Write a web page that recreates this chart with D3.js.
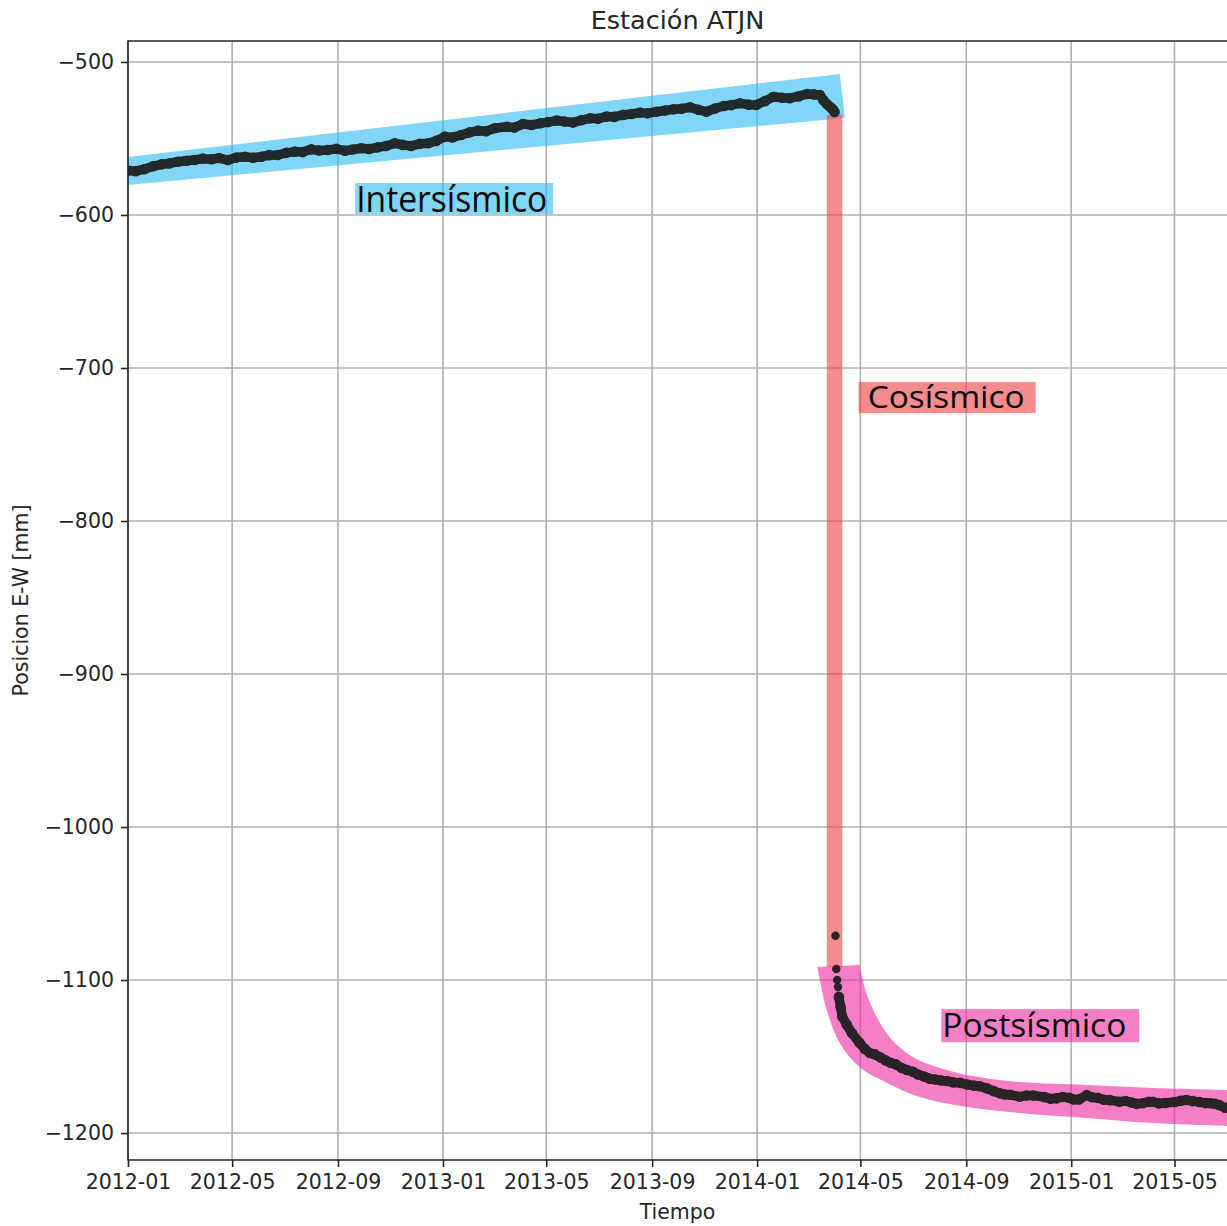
<!DOCTYPE html>
<html>
<head>
<meta charset="utf-8">
<script src="https://cdn.jsdelivr.net/npm/d3@7"></script>
<style>
  html, body { margin: 0; padding: 0; background: #fff; }
  svg { display: block; }
</style>
</head>
<body>
<svg id="chart" width="1227" height="1226"></svg>
<script>
// ---- Data -------------------------------------------------------------
const xTickLabels = ["2012-01","2012-05","2012-09","2013-01","2013-05","2013-09",
                     "2014-01","2014-05","2014-09","2015-01","2015-05"];
const yTickValues = [-500, -600, -700, -800, -900, -1000, -1100, -1200];

// Interseismic daily solutions (sampled), E-W position in mm
const interDates = ["2012-01-01","2012-01-10","2012-01-20","2012-01-30","2012-02-09","2012-02-18","2012-02-28",
  "2012-03-09","2012-03-18","2012-03-28","2012-04-07","2012-04-16","2012-04-26","2012-05-06","2012-05-16",
  "2012-05-25","2012-06-04","2012-06-13","2012-06-23","2012-07-03","2012-07-13","2012-07-22","2012-08-01",
  "2012-08-10","2012-08-20","2012-08-30","2012-09-09","2012-09-18","2012-09-28","2012-10-07","2012-10-17",
  "2012-10-27","2012-11-06","2012-11-15","2012-11-25","2012-12-05","2012-12-15","2012-12-24","2013-01-03",
  "2013-01-12","2013-01-22","2013-02-01","2013-02-11","2013-02-20","2013-03-02","2013-03-16","2013-03-25",
  "2013-04-04","2013-04-14","2013-04-24","2013-05-03","2013-05-13","2013-05-22","2013-06-01","2013-06-11",
  "2013-06-21","2013-06-30","2013-07-10","2013-07-19","2013-07-29","2013-08-08","2013-08-18","2013-08-27",
  "2013-09-06","2013-09-16","2013-09-26","2013-10-05","2013-10-15","2013-10-25","2013-11-03","2013-11-13",
  "2013-11-23","2013-12-02","2013-12-12","2013-12-22","2013-12-31","2014-01-10","2014-01-20","2014-01-30",
  "2014-02-08","2014-02-18","2014-02-28","2014-03-08","2014-03-15","2014-03-19","2014-03-23","2014-03-27",
  "2014-03-30","2014-04-01"];
const interValues = [-571.0,-571.4,-570.1,-568.2,-566.9,-566.3,-565.2,
  -564.6,-564.1,-563.2,-563.6,-562.8,-564.1,-562.5,-561.9,
  -562.6,-561.9,-560.9,-560.8,-559.4,-558.6,-558.9,-557.1,
  -557.9,-557.5,-556.8,-558.0,-557.2,-556.4,-556.9,-555.8,
  -554.9,-553.1,-554.2,-554.9,-553.5,-553.1,-551.6,-548.8,
  -549.3,-547.7,-546.0,-544.9,-545.3,-543.3,-542.3,-542.9,
  -540.5,-541.2,-540.1,-539.3,-538.3,-538.9,-539.6,-538.0,
  -536.8,-537.1,-535.7,-535.9,-534.6,-534.0,-533.1,-533.6,
  -532.5,-531.7,-530.9,-530.6,-529.6,-531.3,-532.5,-530.4,
  -528.8,-528.2,-527.0,-527.9,-528.1,-525.6,-522.7,-523.4,
  -523.7,-522.5,-520.9,-521.2,-521.6,-525.0,-527.5,-529.5,
  -531.0,-532.7];

// Coseismic offset days
const coDates = ["2014-04-02","2014-04-03","2014-04-04","2014-04-05"];
const coValues = [-1071.0,-1092.8,-1100.0,-1104.6];

// Postseismic relaxation
const postDates = ["2014-04-06","2014-04-08","2014-04-10","2014-04-15","2014-04-21","2014-04-30",
  "2014-05-06","2014-05-12","2014-05-18","2014-05-24","2014-05-30","2014-06-05","2014-06-11","2014-06-18",
  "2014-06-24","2014-07-01","2014-07-07","2014-07-14","2014-07-20","2014-07-27","2014-08-03","2014-08-10",
  "2014-08-17","2014-08-25","2014-09-02","2014-09-10","2014-09-17","2014-09-25","2014-10-03","2014-10-10",
  "2014-10-16","2014-10-22","2014-11-02","2014-11-10","2014-11-18","2014-12-01","2014-12-08","2014-12-15",
  "2014-12-22","2014-12-30","2015-01-04","2015-01-10","2015-01-19","2015-01-25","2015-02-01","2015-02-08",
  "2015-02-15","2015-02-26","2015-03-05","2015-03-12","2015-03-18","2015-03-25","2015-04-01","2015-04-06",
  "2015-04-13","2015-04-20","2015-05-01","2015-05-08","2015-05-15","2015-05-22","2015-05-30","2015-06-06",
  "2015-06-12","2015-06-17","2015-06-22","2015-06-29"];
const postValues = [-1111.0,-1117.6,-1124.0,-1129.0,-1134.6,-1141.0,
  -1145.0,-1147.7,-1148.6,-1150.5,-1152.4,-1154.0,-1155.1,-1157.5,
  -1158.8,-1160.0,-1161.7,-1163.0,-1164.4,-1165.0,-1165.6,-1166.0,
  -1166.9,-1167.2,-1168.3,-1169.0,-1169.4,-1170.8,-1172.6,-1174.0,
  -1174.8,-1175.0,-1176.3,-1175.4,-1175.5,-1176.5,-1177.6,-1177.3,
  -1176.4,-1177.0,-1178.1,-1178.0,-1175.2,-1176.6,-1177.0,-1178.2,
  -1178.5,-1179.5,-1179.0,-1180.0,-1180.9,-1180.5,-1179.6,-1179.5,
  -1180.6,-1180.3,-1179.7,-1178.9,-1178.4,-1179.1,-1179.7,-1180.4,
  -1180.5,-1180.9,-1181.7,-1183.5];

// Phase highlight outlines (date, mm)
const interBandDates = ["2012-01-01","2014-04-07","2014-04-13","2012-01-01"];
const interBandValues = [-562.1,-507.8,-536.6,-580.4];

const coBandDates = ["2014-03-23","2014-04-10"];
const coBandValues = [-534.6,-1091.5];

const postOuterDates = ["2014-04-30","2014-05-08","2014-05-20","2014-06-04","2014-07-01","2014-07-29",
  "2014-09-02","2014-11-02","2015-01-19","2015-04-06","2015-07-01"];
const postOuterValues = [-1090.2,-1108.5,-1124.2,-1137.3,-1150.3,-1156.9,
  -1162.1,-1166.7,-1168.6,-1170.6,-1171.9];
const postInnerDates = ["2014-03-12","2014-03-23","2014-04-07","2014-04-30","2014-06-01","2014-07-09",
  "2014-09-02","2014-11-02","2015-01-19","2015-04-06","2015-07-01"];
const postInnerValues = [-1091.5,-1119.6,-1141.2,-1156.9,-1167.3,-1176.5,
  -1183.0,-1186.9,-1190.2,-1193.5,-1195.4];

// Phase labels: text, anchor (top-left of box)
const phaseNames = ["Intersísmico","Cosísmico","Postsísmico"];
const phaseLabelDates = ["2012-09-21","2014-04-29","2014-08-03"];
const phaseLabelValues = [-579.1,-709.2,-1119.0];

// ---- Layout -----------------------------------------------------------
const W = 1227, H = 1226;
const plotL = 128, plotR = W, plotT = 41, plotB = 1160;
const parse = d3.utcParse("%Y-%m-%d");
const fmt = d3.utcFormat("%Y-%m");

const svg = d3.select("#chart");
const x = d3.scaleUtc()
  .domain([parse("2012-01-01"), parse("2015-07-01")])
  .range([plotL, plotR]);
const y = d3.scaleLinear()
  .domain([-1217.6, -486.3])
  .range([plotB, plotT]);

const COLORS = {
  blue: "rgb(43,187,240)",
  red: "rgb(237,62,67)",
  pink: "rgb(237,42,158)",
  grid: "#b0b0b0",
  axis: "#262626",
  marker: "#1a1c1c"
};
const FONT = "DejaVu Sans, sans-serif";

svg.append("defs").append("clipPath").attr("id", "plotClip")
  .append("rect").attr("x", plotL).attr("y", plotT)
  .attr("width", plotR - plotL).attr("height", plotB - plotT);

// ---- Grid ---------------------------------------------------------------
const xTicks = xTickLabels.map(s => parse(s + "-01"));
const grid = svg.append("g");
grid.selectAll("line.vx").data(xTicks).join("line")
  .attr("x1", d => x(d)).attr("x2", d => x(d))
  .attr("y1", plotT).attr("y2", plotB)
  .attr("stroke", COLORS.grid).attr("stroke-width", 1.6);
grid.selectAll("line.hy").data(yTickValues).join("line")
  .attr("x1", plotL).attr("x2", plotR)
  .attr("y1", d => y(d)).attr("y2", d => y(d))
  .attr("stroke", COLORS.grid).attr("stroke-width", 1.6);

// ---- Phase bands ------------------------------------------------------
const bands = svg.append("g").attr("clip-path", "url(#plotClip)");
const bandOpacity = 0.6;

const interPts = interBandDates.map((d, i) => [x(parse(d)), y(interBandValues[i])]);
bands.append("path")
  .attr("d", "M" + interPts.map(p => p.join(",")).join("L") + "Z")
  .attr("fill", COLORS.blue).attr("fill-opacity", bandOpacity);

bands.append("rect")
  .attr("x", x(parse(coBandDates[0])))
  .attr("width", x(parse(coBandDates[1])) - x(parse(coBandDates[0])))
  .attr("y", y(coBandValues[0]))
  .attr("height", y(coBandValues[1]) - y(coBandValues[0]))
  .attr("fill", COLORS.red).attr("fill-opacity", bandOpacity);

const outer = postOuterDates.map((d, i) => [x(parse(d)), y(postOuterValues[i])]);
const inner = postInnerDates.map((d, i) => [x(parse(d)), y(postInnerValues[i])]);
const curve = d3.line().curve(d3.curveCatmullRom.alpha(0.5));
const innerRev = inner.slice().reverse();
const postPath = curve(outer) + "L" + innerRev[0].join(",") +
  curve(innerRev).replace(/^M[^CL]*/, "") + "Z";
bands.append("path")
  .attr("d", postPath)
  .attr("fill", COLORS.pink).attr("fill-opacity", bandOpacity);

// ---- Observations -------------------------------------------------------
const obs = svg.append("g").attr("clip-path", "url(#plotClip)").attr("opacity", 0.93);
const lineGen = d3.line().x(d => x(d[0])).y(d => y(d[1]));
const inter = interDates.map((d, i) => [parse(d), interValues[i]]);
const co = coDates.map((d, i) => [parse(d), coValues[i]]);
const post = postDates.map((d, i) => [parse(d), postValues[i]]);

[inter, post].forEach(seg => {
  obs.append("path").attr("d", lineGen(seg))
    .attr("fill", "none").attr("stroke", COLORS.marker)
    .attr("stroke-width", 9.5).attr("stroke-linejoin", "round").attr("stroke-linecap", "round");
});
obs.selectAll("circle.pt").data(inter.concat(post)).join("circle")
  .attr("cx", d => x(d[0])).attr("cy", d => y(d[1])).attr("r", 5.3)
  .attr("fill", COLORS.marker);
obs.selectAll("circle.co").data(co).join("circle")
  .attr("cx", d => x(d[0])).attr("cy", d => y(d[1])).attr("r", 4.2)
  .attr("fill", COLORS.marker);

// ---- Phase labels ---------------------------------------------------------
const labelBoxes = [
  {w: 198, h: 31, pad: 1, base: 29.5, size: 36, len: 191, color: COLORS.blue},
  {w: 177, h: 31, pad: 9, base: 25.5, size: 31, len: 157, color: COLORS.red},
  {w: 198, h: 33, pad: 1, base: 28, size: 33, len: 184, color: COLORS.pink}
];
phaseNames.forEach((name, i) => {
  const bx = x(parse(phaseLabelDates[i])), by = y(phaseLabelValues[i]);
  const b = labelBoxes[i];
  svg.append("rect").attr("x", bx).attr("y", by).attr("width", b.w).attr("height", b.h)
    .attr("fill", b.color).attr("fill-opacity", bandOpacity);
  svg.append("text").attr("x", bx + b.pad).attr("y", by + b.base)
    .attr("font-family", "'Open Sans', sans-serif").attr("font-size", b.size)
    .attr("textLength", b.len).attr("lengthAdjust", "spacingAndGlyphs")
    .attr("fill", "#0a0a0a").text(name);
});

// ---- Axes ---------------------------------------------------------------
const xAxis = d3.axisBottom(x).tickValues(xTicks).tickFormat(fmt).tickSize(7).tickPadding(7);
const gx = svg.append("g").attr("transform", `translate(0,${plotB})`).call(xAxis);
const yAxis = d3.axisLeft(y).tickValues(yTickValues)
  .tickFormat(d => String(d).replace("-", "\u2212")).tickSize(7).tickPadding(7);
const gy = svg.append("g").attr("transform", `translate(${plotL},0)`).call(yAxis);

[gx, gy].forEach(g => {
  g.select(".domain").remove();
  g.selectAll(".tick line").attr("stroke", COLORS.axis).attr("stroke-width", 1.6);
  g.selectAll(".tick text").attr("fill", COLORS.axis)
    .attr("font-family", FONT).attr("font-size", 20.5);
});

// spines
const spines = svg.append("g").attr("stroke", COLORS.axis).attr("stroke-width", 1.6)
  .attr("fill", "none");
spines.append("line").attr("x1", plotL).attr("x2", plotL).attr("y1", plotT - 0.8).attr("y2", plotB + 0.8);
spines.append("line").attr("x1", plotL).attr("x2", plotR).attr("y1", plotB).attr("y2", plotB);
spines.append("line").attr("x1", plotL).attr("x2", plotR).attr("y1", plotT).attr("y2", plotT);

// ---- Titles -------------------------------------------------------------
svg.append("text").attr("x", (plotL + plotR) / 2).attr("y", 29)
  .attr("text-anchor", "middle").attr("font-family", FONT).attr("font-size", 25.5)
  .attr("fill", COLORS.axis).text("Estación ATJN");
svg.append("text").attr("x", (plotL + plotR) / 2).attr("y", 1219)
  .attr("text-anchor", "middle").attr("font-family", FONT).attr("font-size", 20.5)
  .attr("fill", COLORS.axis).text("Tiempo");
svg.append("text").attr("transform", `translate(28,${(plotT + plotB) / 2}) rotate(-90)`)
  .attr("text-anchor", "middle").attr("font-family", FONT).attr("font-size", 20.5)
  .attr("fill", COLORS.axis).text("Posicion E-W [mm]");
</script>
</body>
</html>
